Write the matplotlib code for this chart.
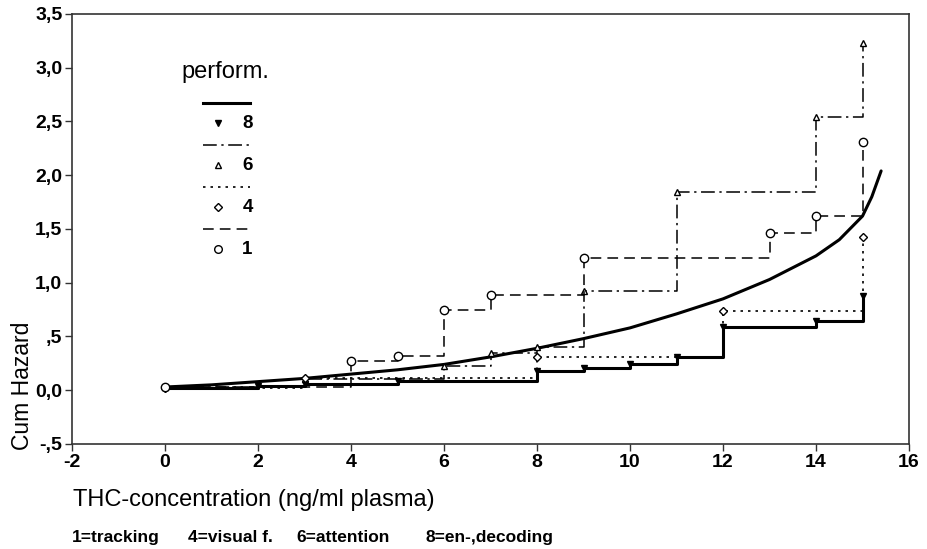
import matplotlib.pyplot as plt

plt.rcParams['font.family'] = ['Liberation Sans', 'DejaVu Sans']

# cumulative hazard per performance group (step functions)
x_track = [0, 4, 5, 6, 7, 9, 13, 14, 15]
y_track = [0.03, 0.27, 0.32, 0.75, 0.89, 1.23, 1.46, 1.62, 2.31]

x_visual = [0, 3, 8, 12, 15]
y_visual = [0.02, 0.11, 0.31, 0.74, 1.43]

x_attent = [0, 3, 6, 7, 8, 9, 11, 14, 15]
y_attent = [0.03, 0.10, 0.23, 0.35, 0.40, 0.92, 1.84, 2.54, 3.23]

x_decode = [0, 2, 3, 5, 8, 9, 10, 11, 12, 14, 15]
y_decode = [0.02, 0.04, 0.06, 0.09, 0.18, 0.21, 0.24, 0.31, 0.59, 0.64, 0.88]

# fitted curve
x_fit = [0, 1, 2, 3, 4, 5, 6, 7, 8, 9, 10, 11, 12, 13, 14, 14.5, 15, 15.2, 15.4]
y_fit = [0.03, 0.05, 0.08, 0.11, 0.15, 0.19, 0.24, 0.31, 0.39, 0.48, 0.58,
         0.71, 0.85, 1.03, 1.25, 1.40, 1.62, 1.80, 2.04]

y_ticks = [-0.5, 0, 0.5, 1.0, 1.5, 2.0, 2.5, 3.0, 3.5]
y_ticklabels = ['-,5', '0,0', ',5', '1,0', '1,5', '2,0', '2,5', '3,0', '3,5']
x_ticks = [-2, 0, 2, 4, 6, 8, 10, 12, 14, 16]

groups = ['8', '6', '4', '1']
footer = ['1=tracking', '4=visual f.', '6=attention', '8=en-,decoding']

fig = plt.figure(figsize=(9.27, 5.49), dpi=100)
ax = fig.add_axes([0.0777, 0.1913, 0.9029, 0.7832])

dashdot = (0, (9, 3, 1.5, 3))
ax.plot(x_fit, y_fit, color='black', lw=2.2, solid_capstyle='round')
ax.step(x_decode, y_decode, where='post', color='black', lw=2.2)
ax.plot(x_decode, y_decode, 'v', ms=4, mfc='black', mec='black', ls='none')
ax.step(x_attent, y_attent, where='post', color='black', lw=1.1, linestyle=dashdot)
ax.plot(x_attent, y_attent, '^', ms=4.5, mfc='white', mec='black', mew=1, ls='none')
ax.step(x_visual, y_visual, where='post', color='black', lw=1.2, linestyle=(0, (1.5, 3)))
ax.plot(x_visual, y_visual, 'D', ms=4, mfc='white', mec='black', mew=1, ls='none')
ax.step(x_track, y_track, where='post', color='black', lw=1.1, linestyle=(0, (7, 4)))
ax.plot(x_track, y_track, 'o', ms=6, mfc='white', mec='black', mew=1, ls='none')

ax.set_xlim(-2, 16)
ax.set_ylim(-0.5, 3.5)
ax.set_xticks(x_ticks)
ax.set_xticklabels([str(t) for t in x_ticks])
ax.set_yticks(y_ticks)
ax.set_yticklabels(y_ticklabels)
ax.tick_params(labelsize=14, length=5, width=1, color='#333333', pad=2)
for lab in ax.get_xticklabels() + ax.get_yticklabels():
    lab.set_fontweight('bold')
for sp in ax.spines.values():
    sp.set_color('#333333')
    sp.set_linewidth(1.2)

ax.set_ylabel('Cum Hazard', fontsize=16.5, loc='bottom')
ax.yaxis.set_label_coords(-0.045, -0.015)
ax.set_xlabel('THC-concentration (ng/ml plasma)', fontsize=17, labelpad=13, x=0.001,
              ha='left')
for txt, xp in zip(footer, [72, 188, 296, 426]):
    fig.text(xp / 927, 0.012, txt, fontsize=12.5, fontweight='bold')

# hand-made legend
ax.text(0.131, 0.865, 'perform.', transform=ax.transAxes, fontsize=17, va='center')
leg_styles = [('-', 2.2, 'v', 'black', 4), (dashdot, 1.1, '^', 'white', 4.5),
              ((0, (1.5, 3)), 1.2, 'D', 'white', 4), ((0, (7, 4)), 1.1, 'o', 'white', 5.5)]
for i, (g, (ls, lw, mk, fc, ms)) in enumerate(zip(groups, leg_styles)):
    yl = 0.793 - i * 0.0977
    ax.plot([0.1565, 0.2127], [yl, yl], transform=ax.transAxes, color='black', ls=ls, lw=lw)
    ax.plot([0.1744], [yl - 0.046], transform=ax.transAxes, marker=mk, ms=ms,
            mfc=fc, mec='black', ls='none')
    ax.text(0.2035, yl - 0.048, g, transform=ax.transAxes, fontsize=13.5,
            fontweight='bold', va='center')

fig.savefig('out.png', dpi=100)
